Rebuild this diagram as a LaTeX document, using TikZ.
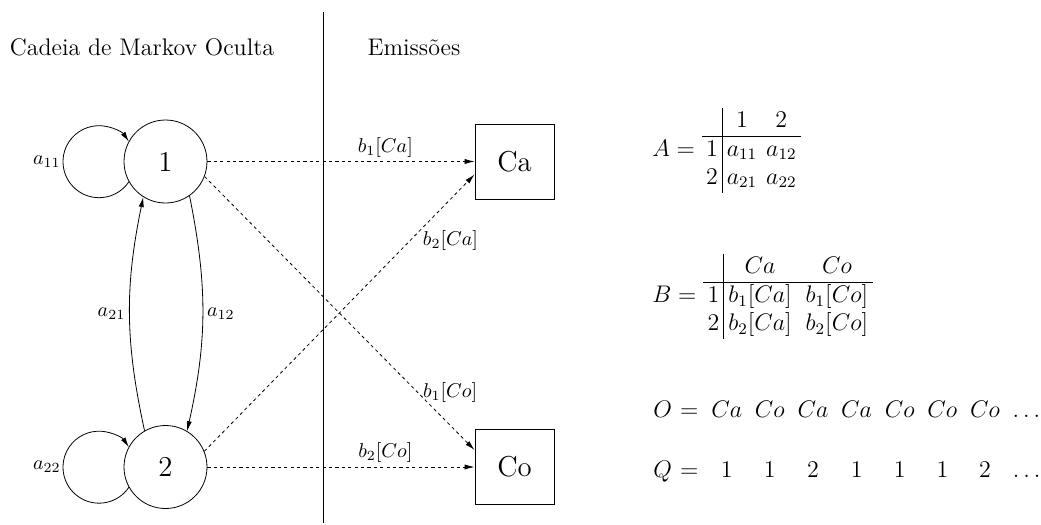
\documentclass[tikz,border=0pt]{standalone}
\usetikzlibrary{arrows.meta}
\begin{document}
\begin{tikzpicture}[x=0.5pt,y=-0.5pt,
  state/.style={circle,draw,minimum size=41.5pt,inner sep=0pt,font=\Large},
  obs/.style={rectangle,draw,minimum width=39.5pt,minimum height=37.6pt,inner sep=0pt,font=\Large},
  arr/.style={-{Latex[length=5pt,width=2.6pt]}},
  emis/.style={arr,dash pattern=on 1.6pt off 1.6pt},
  ttl/.style={font=\large,anchor=base},
  mtab/.style={anchor=west,inner sep=0pt,font=\large}
]
\useasboundingbox (0,0) rectangle (1041,525);

\node[ttl] (t1) at (142,55) {Cadeia de Markov Oculta};
\node[ttl] (t2) at (414,55) {Emissões};
\coordinate (vtop) at (323,12);
\coordinate (vbot) at (323,523);
\draw (vtop) -- (vbot);

\node[state] (n1) at (165.5,161.5) {1};
\node[state] (n2) at (165.5,467) {2};
\node[obs] (ca) at (514.5,161.5) {Ca};
\node[obs] (co) at (514.5,467) {Co};

% self loops
\draw[arr] (n1.209.5) arc[start angle=-34,end angle=-326,radius=18pt];
\node[anchor=east,inner sep=1.5pt] (l11) at ([xshift=-50.75pt]n1.center) {$a_{11}$};
\draw[arr] (n2.209.5) arc[start angle=-34,end angle=-326,radius=18pt];
\node[anchor=east,inner sep=1.5pt] (l22) at ([xshift=-50.75pt]n2.center) {$a_{22}$};

% transitions
\draw[arr] (n1.305) to[bend left=12] node[right,inner sep=2pt] (l12) {$a_{12}$} (n2.59);
\draw[arr] (n2.120) to[bend left=12] node[left,inner sep=2pt] (l21) {$a_{21}$} (n1.238);

% emissions
\draw[emis] (n1) -- node[above,pos=0.666,inner sep=2pt] (e1a) {$b_1[Ca]$} (ca);
\draw[emis] (n2) -- node[above,pos=0.666,inner sep=2pt] (e2o) {$b_2[Co]$} (co);
\draw[emis] (n1.-21) -- node[pos=0.8,anchor=south west,inner sep=0pt,xshift=1pt,yshift=-4pt] (e1o) {$b_1[Co]$} (co.157);
\draw[emis] (n2.22) -- node[pos=0.8,anchor=north west,inner sep=0pt,xshift=1pt] (e2a) {$b_2[Ca]$} (ca.198);

% matrices
\node[mtab] (A) at (652,150.3) {\setlength{\arraycolsep}{2.25pt}$A = \begin{array}{c|cc} & 1 & 2\\\hline 1 & a_{11} & a_{12}\\ 2 & a_{21} & a_{22}\end{array}$};
\node[mtab] (B) at (652,296.7) {\setlength{\arraycolsep}{2.25pt}$B = \begin{array}{c|c@{\hspace{7pt}}c} & Ca & Co\\\hline 1 & b_1[Ca] & b_1[Co]\\ 2 & b_2[Ca] & b_2[Co]\end{array}$};

\node[mtab] (OQ) at (653,441.7) {\setlength{\arraycolsep}{3.2pt}$\begin{array}{@{}r@{\hspace{4pt}}c@{\hspace{6.5pt}}cccccccc@{}} O & = & Ca & Co & Ca & Ca & Co & Co & Co & \dots\\[16pt] Q & = & 1 & 1 & 2 & 1 & 1 & 1 & 2 & \dots \end{array}$};
\end{tikzpicture}
\end{document}
